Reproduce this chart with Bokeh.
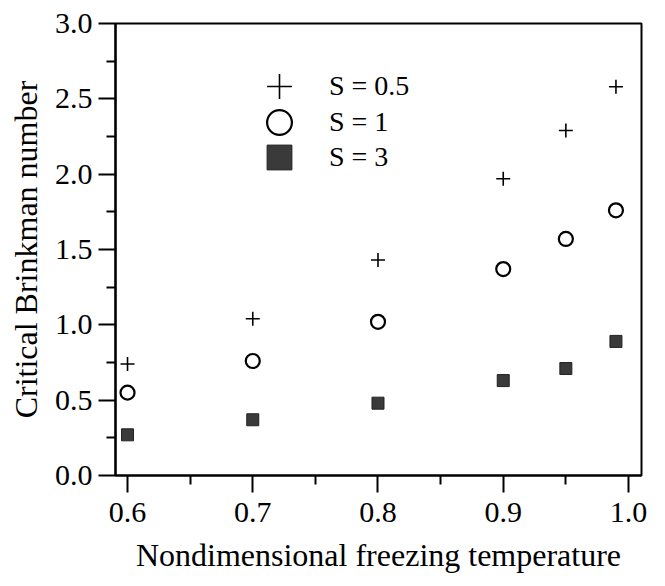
from bokeh.plotting import figure
from bokeh.models import Range1d, FixedTicker, Legend, LegendItem, PrintfTickFormatter
from bokeh.embed import file_html
from bokeh.resources import INLINE

# Data
temps = [0.6, 0.7, 0.8, 0.9, 0.95, 0.99]
brinkman_s05 = [0.74, 1.04, 1.43, 1.97, 2.29, 2.58]
brinkman_s1 = [0.55, 0.76, 1.02, 1.37, 1.57, 1.76]
brinkman_s3 = [0.27, 0.37, 0.48, 0.63, 0.71, 0.89]
series_labels = ["S = 0.5", "S = 1", "S = 3"]
x_ticks = [0.6, 0.7, 0.8, 0.9, 1.0]
x_minor = [0.65, 0.75, 0.85, 0.95]
y_ticks = [0.0, 0.5, 1.0, 1.5, 2.0, 2.5, 3.0]
y_minor = [0.25, 0.75, 1.25, 1.75, 2.25, 2.75]

FONT = "Liberation Serif"

p = figure(width=665, height=586, output_backend="svg", toolbar_location=None,
           x_range=Range1d(0.5904, 1.0104), y_range=Range1d(0.0, 3.0),
           min_border_left=115, min_border_right=24, min_border_top=23, min_border_bottom=111)
p.background_fill_color = "white"
p.border_fill_color = "white"
p.xgrid.visible = False
p.ygrid.visible = False
p.outline_line_color = "black"
p.outline_line_width = 2

r1 = p.scatter(temps, brinkman_s05, marker="cross", size=14, line_color="black", line_width=1.6)
r2 = p.scatter(temps, brinkman_s1, marker="circle", size=14, line_color="black", line_width=2.2,
               fill_color="white")
r3 = p.scatter(temps, brinkman_s3, marker="square", size=12, line_color="#222222", line_width=1,
               fill_color="#3a3a3a")

for ax, ticks, minor in ((p.xaxis[0], x_ticks, x_minor), (p.yaxis[0], y_ticks, y_minor)):
    ax.ticker = FixedTicker(ticks=ticks, minor_ticks=minor)
    ax.formatter = PrintfTickFormatter(format="%.1f")
    ax.axis_line_width = 2.2
    ax.axis_line_color = "black"
    ax.major_tick_line_width = 2
    ax.minor_tick_line_width = 2
    ax.major_tick_in = 0
    ax.minor_tick_in = 0
    ax.major_tick_out = 17
    ax.minor_tick_out = 9
    ax.major_label_text_font = FONT
    ax.major_label_text_font_size = "30px"
    ax.major_label_text_color = "black"
    ax.axis_label_text_font = FONT
    ax.axis_label_text_font_size = "32px"
    ax.axis_label_text_font_style = "normal"
    ax.axis_label_text_color = "black"

p.xaxis.axis_label = "Nondimensional freezing temperature"
p.yaxis.axis_label = "Critical Brinkman number"
p.xaxis.major_label_standoff = 10
p.yaxis.major_label_standoff = 6
p.xaxis.axis_label_standoff = 12
p.yaxis.axis_label_standoff = 8

# one legend box per entry so the rows can sit closer than the glyph boxes
renderers = [r1, r2, r3]
legend_bottoms = [358, 322, 287]
for lab, rend, yb in zip(series_labels, renderers, legend_bottoms):
    lg = Legend(items=[LegendItem(label=lab, renderers=[rend])],
                location=(133, yb), glyph_width=62, glyph_height=62, spacing=0,
                padding=0, margin=0, label_standoff=19, label_height=30,
                label_text_font=FONT, label_text_font_size="28px", label_text_color="black",
                border_line_color=None, background_fill_alpha=0)
    p.add_layout(lg)

open("out.html", "w").write(file_html(p, INLINE))
